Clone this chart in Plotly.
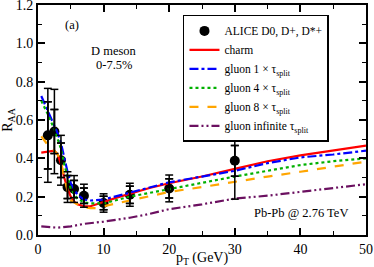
import plotly.graph_objects as go

# ALICE data
alice_pt = [1.5, 2.5, 3.5, 4.5, 5.5, 7.0, 10.0, 14.0, 20.0, 30.0]
alice_raa = [0.52, 0.54, 0.39, 0.25, 0.24, 0.205, 0.167, 0.21, 0.243, 0.387]
alice_err_outer = [0.245, 0.22, 0.13, 0.08, 0.07, 0.06, 0.048, 0.06, 0.07, 0.2]
alice_err_inner = [0.175, 0.115, 0.09, 0.06, 0.045, 0.04, 0.035, 0.045, 0.05, 0.08]

charm_pt = [0.5, 1.5, 2.5, 3.0, 3.5, 4.0, 4.5, 5.0, 5.5, 6.0, 7.0, 8.0, 9.0, 10.0, 12.0, 14.0, 17.0, 20.0, 25.0, 30.0, 35.0, 40.0, 45.0, 50.0]
charm_raa = [0.43, 0.435, 0.44, 0.42, 0.37, 0.3, 0.24, 0.2, 0.175, 0.16, 0.15, 0.15, 0.16, 0.172, 0.195, 0.215, 0.245, 0.27, 0.305, 0.345, 0.385, 0.415, 0.44, 0.466]

g1_pt = [0.5, 1.5, 2.5, 3.0, 3.5, 4.0, 4.5, 5.0, 6.0, 7.0, 8.0, 10.0, 14.0, 20.0, 25.0, 30.0, 35.0, 40.0, 45.0, 50.0]
g1_raa = [0.725, 0.65, 0.57, 0.53, 0.48, 0.4, 0.33, 0.27, 0.21, 0.185, 0.18, 0.185, 0.22, 0.275, 0.305, 0.335, 0.375, 0.405, 0.42, 0.44]

g4_pt = [0.5, 1.5, 2.5, 3.0, 3.5, 4.0, 4.5, 5.0, 6.0, 7.0, 8.0, 10.0, 14.0, 20.0, 25.0, 30.0, 35.0, 40.0, 45.0, 50.0]
g4_raa = [0.70, 0.63, 0.55, 0.5, 0.45, 0.37, 0.3, 0.24, 0.19, 0.17, 0.165, 0.165, 0.2, 0.24, 0.27, 0.305, 0.335, 0.365, 0.385, 0.40]

g8_pt = [0.5, 1.5, 2.5, 3.0, 3.5, 4.0, 4.5, 5.0, 6.0, 7.0, 8.0, 9.0, 10.0, 14.0, 20.0, 25.0, 30.0, 35.0, 40.0, 45.0, 50.0]
g8_raa = [0.515, 0.47, 0.44, 0.42, 0.38, 0.3, 0.23, 0.18, 0.16, 0.145, 0.14, 0.14, 0.15, 0.18, 0.225, 0.25, 0.278, 0.305, 0.33, 0.355, 0.383]

ginf_pt = [0.5, 2.0, 3.0, 5.0, 7.0, 10.0, 14.0, 17.0, 20.0, 25.0, 30.0, 35.0, 40.0, 45.0, 50.0]
ginf_raa = [0.045, 0.04, 0.038, 0.045, 0.058, 0.07, 0.09, 0.11, 0.135, 0.16, 0.19, 0.205, 0.225, 0.245, 0.265]

xticks = [0, 10, 20, 30, 40, 50]
yticks = [0.0, 0.2, 0.4, 0.6, 0.8, 1.0, 1.2]

FONT = "Liberation Serif"

fig = go.Figure()

lines = [
    ("charm", charm_pt, charm_raa, "#ff0000", "solid"),
    ("gluon 1 × τ<sub>split</sub>", g1_pt, g1_raa, "#0000ff", "dashdot"),
    ("gluon 4 × τ<sub>split</sub>", g4_pt, g4_raa, "#00b000", "dot"),
    ("gluon 8 × τ<sub>split</sub>", g8_pt, g8_raa, "#ffa500", "dash"),
    ("gluon infinite τ<sub>split</sub>", ginf_pt, ginf_raa, "#6b1060", "9px,3px,2px,3px,2px,3px"),
]

fig.add_trace(go.Scatter(
    x=alice_pt, y=alice_raa, mode="markers", name="ALICE D0, D+, D*+",
    marker=dict(size=10, color="black"),
    error_y=dict(type="data", symmetric=False, array=alice_err_inner, arrayminus=alice_err_inner,
                 color="black", thickness=1.5, width=4)))

for name, xs, ys, col, dash in lines:
    fig.add_trace(go.Scatter(x=xs, y=ys, mode="lines", name=name,
                             line=dict(color=col, width=2.2, dash=dash)))

# error bars as shapes in data coordinates, computed from the data arrays
CAP = 0.6  # half cap width in pT units
shapes = []
for errs in (alice_err_outer, alice_err_inner):
    for x, y, e in zip(alice_pt, alice_raa, errs):
        lw = dict(color="black", width=1.5)
        shapes.append(dict(type="line", xref="x", yref="y", x0=x, x1=x, y0=y - e, y1=y + e, line=lw))
        shapes.append(dict(type="line", xref="x", yref="y", x0=x - CAP, x1=x + CAP, y0=y + e, y1=y + e, line=lw))
        shapes.append(dict(type="line", xref="x", yref="y", x0=x - CAP, x1=x + CAP, y0=y - e, y1=y - e, line=lw))

axis_common = dict(
    showline=True, linecolor="black", linewidth=2, mirror="ticks",
    ticks="inside", ticklen=7, tickwidth=1.5, tickcolor="black",
    showgrid=False, zeroline=False, automargin=False, ticklabeloverflow="allow",
    tickfont=dict(family=FONT, size=14, color="black"),
    minor=dict(ticks="inside", ticklen=4, tickwidth=1.2, tickcolor="black"),
)

fig.update_xaxes(range=[0, 50.0001], tickvals=xticks, ticktext=[str(v) for v in xticks],
                 minor_dtick=5,
                 title=dict(text="p<sub>T</sub> (GeV)", font=dict(family=FONT, size=14, color="black"), standoff=0),
                 **axis_common)
fig.update_yaxes(range=[0, 1.2001], tickvals=yticks, ticktext=[f"{v:.1f}" for v in yticks],
                 minor_dtick=0.1,
                 title=dict(text="R<sub>AA</sub>", font=dict(family=FONT, size=14, color="black"), standoff=0),
                 **axis_common)

ann_font = dict(family=FONT, size=12.5, color="black")
fig.update_layout(
    width=374, height=267,
    margin=dict(l=38, r=8, t=5, b=32),
    paper_bgcolor="white", plot_bgcolor="white",
    font=dict(family=FONT, color="black"),
    shapes=shapes,
    legend=dict(x=0.442, y=0.957, xanchor="left", yanchor="top",
                bordercolor="black", borderwidth=1.5, bgcolor="white",
                font=dict(family=FONT, size=11.5, color="black"),
                tracegroupgap=0, itemwidth=30),
    annotations=[
        dict(x=0.103, y=0.913, xref="paper", yref="paper", text="(a)", showarrow=False,
             xanchor="center", yanchor="middle", font=ann_font),
        dict(x=0.232, y=0.8, xref="paper", yref="paper", text="D meson", showarrow=False,
             xanchor="center", yanchor="middle", font=ann_font),
        dict(x=0.232, y=0.739, xref="paper", yref="paper", text="0-7.5%", showarrow=False,
             xanchor="center", yanchor="middle", font=ann_font),
        dict(x=0.951, y=0.096, xref="paper", yref="paper", xanchor="right", yanchor="middle",
             text="Pb-Pb @ 2.76 TeV", showarrow=False, font=ann_font),
    ],
)

fig.write_html("out.html", config={"displayModeBar": False},
               post_script="document.body.style.margin='0';document.body.style.overflow='hidden';")
